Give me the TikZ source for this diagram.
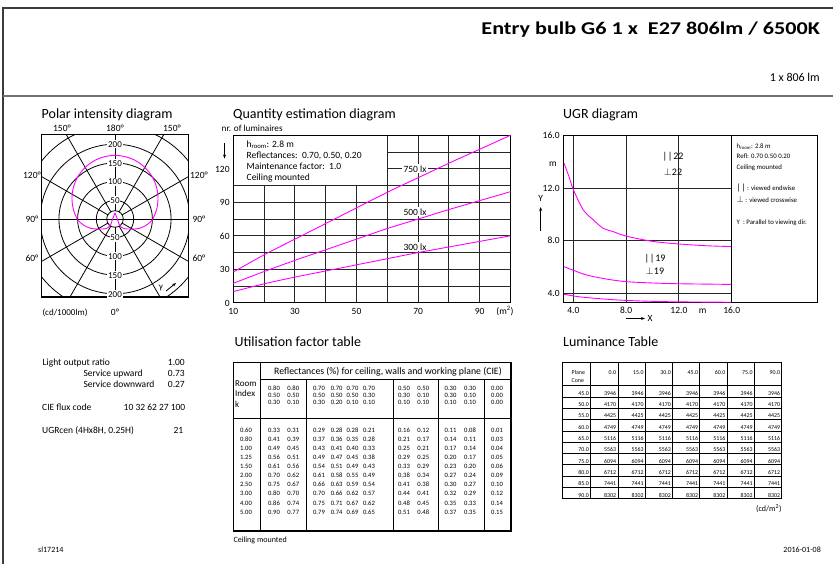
\documentclass[tikz,border=0pt]{standalone}
\usepackage{fontspec}
\setmainfont{Carlito}
\usepackage{graphicx}
\usetikzlibrary{arrows.meta}
\newcommand\myfs[1]{\fontsize{#1}{#1}\selectfont}
\definecolor{mag}{RGB}{255,0,255}
\definecolor{framec}{RGB}{60,60,60}
\begin{document}
\begin{tikzpicture}[x=1pt,y=-1pt,
  txt/.style={inner sep=0pt, text height=0.66em, text depth=0pt},
  ttl/.style={txt, anchor=west, font=\myfs{14}},
  lbl/.style={txt, font=\myfs{9.5}},
  info/.style={txt, anchor=west, font=\myfs{9.5}},
  leg/.style={txt, anchor=west, font=\myfs{6.8}},
  tnum/.style={txt, font=\myfs{6.6}},
  lnum/.style={txt, anchor=east, font=\myfs{5.9}},
  pl/.style={line width=0.8pt, black},
  gridl/.style={line width=1pt, black!85},
  boxl/.style={line width=1.3pt, black},
  tline/.style={line width=0.8pt, black},
  curve/.style={line width=0.9pt, mag},
  arr/.style={-{Stealth[length=4pt,width=3pt]}, line width=0.8pt}
]
\fill[white] (0,0) rectangle (833,564);
\useasboundingbox (0,0) rectangle (833,564);

% frame and header
\draw[line width=1.2pt, framec] (3,564) -- (3,8) -- (833,8);
\draw[line width=1.6pt, black!55] (3,96) -- (833,96);
\node[txt, anchor=east, font=\myfs{18}\bfseries] (title) at (820,31) {\scalebox{1.23}[1]{Entry bulb G6 1 x\ \ E27 806lm / 6500K}};
\node[txt, anchor=east, font=\myfs{12}] (lm) at (820,78) {1 x 806 lm};

% ---------------- Polar intensity diagram
\node[ttl] (ptitle) at (41.5,115.7) {Polar intensity diagram};
\begin{scope}[shift={(115,219)}, yscale=-1]
  \begin{scope}
    \clip (-73.3,-78) rectangle (73.3,84.7);
    \foreach \r in {18.7,37.4,56.1,74.8,93.5} \draw[pl] (0,0) circle[radius=\r];
    \foreach \a in {30,60,120,150,210,240,300,330} \draw[pl] (\a:8.3) -- (\a:140);
    \draw[pl] (-80,0) -- (80,0);
    \draw[pl] (0,8.3) -- (0,90);
    \draw[pl] (0,-8.3) -- (0,-90);
  \end{scope}
  \draw[pl] (0,0) circle[radius=8.3];
  \draw[boxl] (-73.3,-78) rectangle (73.3,84.7);
  \foreach \v/\r in {50/18.7,100/37.4,150/56.1,200/74.8} {
    \node[txt, font=\myfs{9}, fill=white, inner sep=0.7pt] (pu\v) at (0,\r) {\v};
    \node[txt, font=\myfs{9}, fill=white, inner sep=0.7pt] (pd\v) at (0,-\r) {\v};
  }
  \begin{scope}[scale=0.374]
    \draw[curve] plot[smooth] coordinates {(0,16) (6,1) (13,-18) (24,-25.5) (45,-27) (65,-25) (82,-17.5) (95,-7.5) (101,0)}
      -- plot[domain=-28.6:90, samples=40] ({115*cos(\x)},{55+115*sin(\x)});
    \begin{scope}[xscale=-1]
    \draw[curve] plot[smooth] coordinates {(0,16) (6,1) (13,-18) (24,-25.5) (45,-27) (65,-25) (82,-17.5) (95,-7.5) (101,0)}
      -- plot[domain=-28.6:90, samples=40] ({115*cos(\x)},{55+115*sin(\x)});
    \end{scope}
  \end{scope}
\end{scope}
\node[lbl] (a150l) at (62,128) {150°};
\node[lbl] (a180) at (115,128) {180°};
\node[lbl] (a150r) at (172,128) {150°};
\node[lbl] (a120l) at (32,175) {120°};
\node[lbl] (a120r) at (199,175) {120°};
\node[lbl] (a90l) at (32,219) {90°};
\node[lbl] (a90r) at (199,219) {90°};
\node[lbl] (a60l) at (32,258) {60°};
\node[lbl] (a60r) at (199,258) {60°};
\node[txt, font=\myfs{9}] (cdunit) at (65,312) {(cd/1000lm)};
\node[lbl] (a0) at (115,312) {0°};
\node[txt, font=\myfs{9}] (gam) at (161,286.5) {γ};
\coordinate (ga1) at (166,291);
\coordinate (ga2) at (176,283);
\draw[arr] (ga1) -- (ga2);

% ---------------- Quantity estimation diagram
\node[ttl] (qtitle) at (233,115.7) {Quantity estimation diagram};
\node[txt, anchor=west, font=\myfs{9.2}] (nrl) at (221.5,128.5) {nr. of luminaires};
\coordinate (qa1) at (224.5,143);
\coordinate (qa2) at (224.5,158.5);
\draw[arr] (qa1) -- (qa2);
\begin{scope}[shift={(202.5,302.8)}, xscale=3.08, yscale=-1.1167]
  \foreach \v in {20,30,40,50} \draw[gridl] (\v,0) -- (\v,105);
  \foreach \v in {60,70,80,90} \draw[gridl] (\v,0) -- (\v,150);
  \foreach \n in {15,30,...,90} \draw[gridl] (10,\n) -- (100,\n);
  \foreach \n in {105,120,135} \draw[gridl] (60,\n) -- (100,\n);
  \draw[gridl] (10,105) rectangle (60,150);
  \draw[boxl] (10,0) rectangle (100,150);
  \node[lbl, fill=white, inner sep=1.2pt] (l750) at (69,120) {750 lx};
  \node[lbl, fill=white, inner sep=1.2pt] (l500) at (69,81.5) {500 lx};
  \node[lbl, fill=white, inner sep=1.2pt] (l300) at (69,50.2) {300 lx};
  \draw[curve] plot[smooth] coordinates {(10,27.5) (20,43) (30,57) (40,71) (50,85) (60,99) (70,112) (80,125) (90,137.5) (100,150)};
  \draw[curve] plot[smooth] coordinates {(10,17.5) (20,28) (30,38) (40,47.5) (50,57) (60,66.5) (70,75) (80,83.5) (90,91.5) (100,99.5)};
  \draw[curve] plot[smooth] coordinates {(10,10) (20,17) (30,23) (40,28.5) (50,34) (60,39.5) (70,45) (80,50) (90,55) (100,60)};
  \foreach \n in {0,30,60,90,120} \node[lbl, anchor=east, xshift=-3.5pt] (qy\n) at (10,\n) {\n};
\end{scope}
\foreach \v/\xx in {10/233.3,30/294.9,50/356.5,70/418.1,90/479.7} \node[lbl] (qx\v) at (\xx,311.5) {\v};
\node[lbl] (qm2) at (505,311.5) {(m\textsuperscript{2})};
\node[info] (qi1) at (246.5,144) {h\textsubscript{room}: 2.8 m};
\node[info] (qi2) at (246.5,155.2) {Reflectances:\ \ 0.70, 0.50, 0.20};
\node[info] (qi3) at (246.5,166.3) {Maintenance factor:\ \ 1.0};
\node[info] (qi4) at (246.5,177.4) {Ceiling mounted};

% ---------------- UGR diagram
\node[ttl] (ugtitle) at (563,115.7) {UGR diagram};
\begin{scope}[shift={(520.5,345.7)}, xscale=13.2, yscale=-13.125]
  \foreach \v in {4,8,12} {
    \draw[gridl] (\v,3.3) -- (\v,16);
    \draw[gridl] (3.24,\v) -- (16,\v);
  }
  \draw[boxl] (3.24,3.3) rectangle (16,16);
  \draw[curve] plot[smooth] coordinates {(3.3,13.9) (3.7,12.8) (4,11.9) (4.76,10.34) (5.5,9.6) (6.27,8.94) (7,8.7) (8,8.35) (10,7.95) (12,7.75) (14,7.62) (16,7.55)};
  \draw[curve] plot[smooth] coordinates {(3.3,6.02) (4,5.75) (5,5.39) (6.5,5.08) (8,4.88) (10,4.78) (12,4.72) (16,4.67)};
  \draw[curve] plot[smooth] coordinates {(3.3,3.92) (4.5,3.72) (6.27,3.56) (8,3.45) (10,3.38) (12,3.34) (16,3.31)};
  \foreach \v in {4.0,8.0,12.0,16.0} \node[lbl, anchor=east, xshift=-3.5pt] (uy\v) at (3.24,\v) {\v};
\end{scope}
\draw[boxl] (731.7,135.7) rectangle (817.7,302.3);
\node[lbl] (um) at (553,163) {m};
\node[lbl] (uY) at (540.7,198.3) {Y};
\coordinate (ua1) at (540.7,231);
\coordinate (ua2) at (540.7,207);
\draw[arr] (ua1) -- (ua2);
\node[lbl] (ux4) at (573.3,310) {4.0};
\node[lbl] (ux8) at (626.1,310) {8.0};
\node[lbl] (ux12) at (678.9,310) {12.0};
\node[lbl] (uxm) at (702.7,310) {m};
\node[lbl] (ux16) at (731.7,310) {16.0};
\coordinate (ub1) at (626,318.5);
\coordinate (ub2) at (645,318.5);
\draw[arr] (ub1) -- (ub2);
\node[lbl, anchor=west] (uX) at (647.5,318.5) {X};
\node[txt, font=\myfs{10}] (g22a) at (673,156.7) {|\kern0.8pt|\kern0.8pt22};
\node[txt, font=\myfs{10}] (g22b) at (673,172.3) {$\perp$\kern0.3pt22};
\node[txt, font=\myfs{10}] (g19a) at (655,258.3) {|\kern0.8pt|\kern0.8pt19};
\node[txt, font=\myfs{10}] (g19b) at (655,271.7) {$\perp$\kern0.3pt19};
\node[leg] (ul1) at (736.5,145) {h\textsubscript{room}: 2.8 m};
\node[leg] (ul2) at (736.5,155.7) {Refl: 0.70 0.50 0.20};
\node[leg] (ul3) at (736.5,166.7) {Ceiling mounted};
\node[leg] (ul4) at (736.5,187.7) {{\myfs{9}|\kern0.6pt|} : viewed endwise};
\node[leg] (ul5) at (736.5,199) {{\myfs{9}$\perp$} : viewed crosswise};
\node[leg] (ul6) at (736.5,221) {Y\ \ : Parallel to viewing dir.};

% ---------------- left text block
\node[info] (lo1) at (42.5,361.7) {Light output ratio};
\node[txt, anchor=east, font=\myfs{9.5}] (lo1v) at (185,361.7) {1.00};
\node[info] (lo2) at (83.3,372.7) {Service upward};
\node[txt, anchor=east, font=\myfs{9.5}] (lo2v) at (185,372.7) {0.73};
\node[info] (lo3) at (83.3,383.7) {Service downward};
\node[txt, anchor=east, font=\myfs{9.5}] (lo3v) at (185,383.7) {0.27};
\node[info] (cie) at (42,407.3) {CIE flux code};
\node[txt, anchor=east, font=\myfs{9.5}] (ciev) at (185.5,407.3) {10 32 62 27 100};
\node[info] (ugr) at (42,430) {UGRcen (4Hx8H, 0.25H)};
\node[txt, anchor=east, font=\myfs{9.5}] (ugrv) at (183.5,430) {21};

% ---------------- Utilisation factor table
\node[ttl] (uftitle) at (234.5,343.3) {Utilisation factor table};
\draw[boxl] (233.3,362.7) rectangle (511,531);
\draw[tline] (260,362.7) -- (260,531);
\draw[tline] (260,379.3) -- (511,379.3);
\draw[tline] (233.3,418.3) -- (511,418.3);
\foreach \xx in {306.7,393.3,438.3,484.3} \draw[tline] (\xx,379.3) -- (\xx,531);
\node[txt, font=\myfs{9.8}] (ufhdr) at (388,371) {Reflectances (\%) for ceiling, walls and working plane (CIE)};
\node[info, font=\myfs{9}] (rk1) at (235,383.3) {Room};
\node[info, font=\myfs{9}] (rk2) at (235,393.6) {Index};
\node[info, font=\myfs{9}] (rk3) at (235,404) {k};
\foreach \row [count=\i from 0] in {
  {0.80,0.80,0.70,0.70,0.70,0.70,0.50,0.50,0.30,0.30,0.00},
  {0.50,0.50,0.50,0.50,0.50,0.30,0.30,0.10,0.30,0.10,0.00},
  {0.30,0.10,0.30,0.20,0.10,0.10,0.10,0.10,0.10,0.10,0.00}} {
  \foreach \val [count=\j from 1] in \row {
    \pgfmathsetmacro{\cx}{{246,274,293.3,319,336.7,352.5,369,404,423.3,450.5,470,497}[\j]}
    \node[tnum] (sh-\i-\j) at (\cx,387.3+\i*6.7) {\val};
  }
}
\foreach \row [count=\i from 0] in {
  {0.60,0.33,0.31,0.29,0.28,0.28,0.21,0.16,0.12,0.11,0.08,0.01},
  {0.80,0.41,0.39,0.37,0.36,0.35,0.28,0.21,0.17,0.14,0.11,0.03},
  {1.00,0.49,0.45,0.43,0.41,0.40,0.33,0.25,0.21,0.17,0.14,0.04},
  {1.25,0.56,0.51,0.49,0.47,0.45,0.38,0.29,0.25,0.20,0.17,0.05},
  {1.50,0.61,0.56,0.54,0.51,0.49,0.43,0.33,0.29,0.23,0.20,0.06},
  {2.00,0.70,0.62,0.61,0.58,0.55,0.49,0.38,0.34,0.27,0.24,0.09},
  {2.50,0.75,0.67,0.66,0.63,0.59,0.54,0.41,0.38,0.30,0.27,0.10},
  {3.00,0.80,0.70,0.70,0.66,0.62,0.57,0.44,0.41,0.32,0.29,0.12},
  {4.00,0.86,0.74,0.75,0.71,0.67,0.62,0.48,0.45,0.35,0.33,0.14},
  {5.00,0.90,0.77,0.79,0.74,0.69,0.65,0.51,0.48,0.37,0.35,0.15}} {
  \foreach \val [count=\j from 0] in \row {
    \pgfmathsetmacro{\cx}{{246,274,293.3,319,336.7,352.5,369,404,423.3,450.5,470,497}[\j]}
    \node[tnum] (uf-\i-\j) at (\cx,429.3+\i*9.05) {\val};
  }
}
\node[txt, anchor=west, font=\myfs{8}] (ufcm) at (233.3,539) {Ceiling mounted};

% ---------------- Luminance table
\node[ttl] (lttitle) at (563,343.3) {Luminance Table};
\foreach \xx in {590.7,618,645.3,672.6,699.9,727.2,754.5} \draw[line width=1pt] (\xx,362.3) -- (\xx,498.7);
\draw[tline] (562.7,385.7) -- (781.8,385.7);
\foreach \i in {1,...,9} \draw[tline] (562.7,385.7+\i*11.3) -- (781.8,385.7+\i*11.3);
\draw[boxl] (562.7,362.3) rectangle (781.8,498.7);
\node[txt, anchor=west, font=\myfs{5.9}] (plane) at (571.5,371) {Plane};
\node[txt, anchor=west, font=\myfs{5.9}] (cone) at (571.5,379.6) {Cone};
\foreach \h/\xx in {0.0/618,15.0/645.3,30.0/672.6,45.0/699.9,60.0/727.2,75.0/754.5,90.0/781.8}
  \node[lnum] (lh\h) at (\xx-1.6,371.5) {\h};
\foreach \c/\v [count=\i from 0] in {45.0/3946,50.0/4170,55.0/4425,60.0/4749,65.0/5116,70.0/5563,75.0/6094,80.0/6712,85.0/7441,90.0/8302} {
  \node[lnum] (lc\i) at (589.1,385.7+\i*11.3+6.3) {\c};
  \foreach \xx [count=\j] in {618,645.3,672.6,699.9,727.2,754.5,781.8}
    \node[lnum] (lv-\i-\j) at (\xx-1.6,385.7+\i*11.3+6.3) {\v};
}
\node[txt, anchor=east, font=\myfs{8}] (cdm) at (781.8,508.3) {(cd/m\textsuperscript{2})};

% ---------------- footer
\node[txt, anchor=west, font=\myfs{8}] (docid) at (38,549) {sl17214};
\node[txt, anchor=east, font=\myfs{8}] (date) at (821,549) {2016-01-08};
\end{tikzpicture}
\end{document}
